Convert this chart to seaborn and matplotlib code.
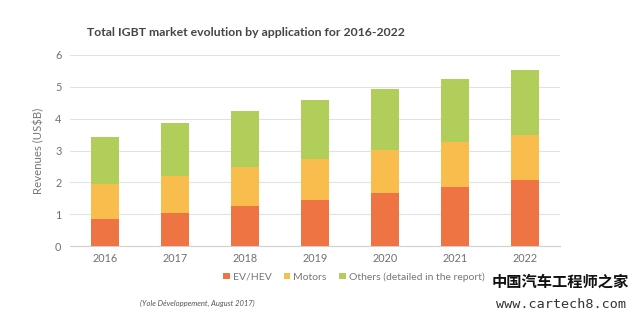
import matplotlib
matplotlib.use("Agg")
import matplotlib.pyplot as plt
import seaborn as sns
import pandas as pd
import numpy as np
from matplotlib.patches import Patch

years = ["2016", "2017", "2018", "2019", "2020", "2021", "2022"]
ev_hev = [0.85, 1.03, 1.25, 1.46, 1.68, 1.86, 2.07]
motors = [1.10, 1.18, 1.23, 1.28, 1.33, 1.40, 1.43]
others = [1.48, 1.65, 1.75, 1.85, 1.93, 2.00, 2.02]
series_names = ["EV/HEV", "Motors", "Others (detailed in the report)"]
colors = ["#EE7543", "#F8BD4C", "#B1CE5A"]
y_ticks = [0, 1, 2, 3, 4, 5, 6]

sns.set_theme(style="white")
plt.rcParams["font.family"] = ["Lato", "DejaVu Sans"]

df = pd.DataFrame({"year": years, "ev": ev_hev, "motors": motors, "others": others})
df["c1"] = df["ev"]
df["c2"] = df["ev"] + df["motors"]
df["c3"] = df["c2"] + df["others"]

fig = plt.figure(figsize=(6.4, 3.21), dpi=100)
ax = fig.add_axes([0.109, 0.2336, 0.766, 0.5951])

# stacked bars: draw cumulative totals from the top segment down
for col, color in zip(["c3", "c2", "c1"], colors[::-1]):
    sns.barplot(data=df, x="year", y=col, color=color, width=0.4,
                saturation=1, ax=ax, zorder=3, linewidth=0)

ax.set_ylim(0, 6)
ax.set_xlim(-0.5, 6.5)
ax.set_yticks(y_ticks)
ax.yaxis.grid(True, color="#E2E2E2", linewidth=0.8, zorder=0)
for s in ["top", "right", "left"]:
    ax.spines[s].set_visible(False)
ax.spines["bottom"].set_color("#D0D0D0")
ax.spines["bottom"].set_linewidth(0.8)
ax.tick_params(axis="both", length=0, labelsize=7.8, labelcolor="#707070")
ax.tick_params(axis="x", pad=5)
ax.tick_params(axis="y", pad=6)
ax.set_xlabel("")
ax.set_ylabel("Revenues (US$B)", fontsize=8.2, color="#777777", labelpad=8)

fig.text(0.385, 0.90, "Total IGBT market evolution by application for 2016-2022",
         ha="center", va="center", fontsize=8.8, fontweight="bold", color="#454545")

handles = [Patch(facecolor=c, edgecolor="none") for c in colors]
fig.legend(handles, series_names, loc="center", bbox_to_anchor=(0.553, 0.137),
           ncol=3, frameon=False, fontsize=7.5, labelcolor="#777777",
           handlelength=0.6, handleheight=0.6, handletextpad=0.3, columnspacing=1.2)

fig.text(0.309, 0.056, "(Yole Développement, August 2017)", ha="center", va="center",
         fontsize=5.5, style="italic", color="#555555")

fig.text(0.876, 0.122, "中国汽车工程师之家", ha="center", va="center", fontsize=11,
         fontweight="bold", color="#111111", family=["Noto Sans CJK SC", "DejaVu Sans"])
fig.text(0.876, 0.05, "www.cartech8.com", ha="center", va="center", fontsize=9.7,
         color="#333333", family=["DejaVu Sans Mono", "DejaVu Sans"])

fig.savefig("out.png", dpi=100)
